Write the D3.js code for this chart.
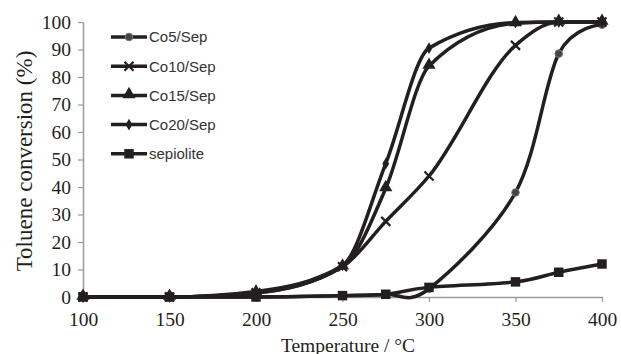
<!DOCTYPE html>
<html>
<head>
<meta charset="utf-8">
<script src="https://cdn.jsdelivr.net/npm/d3@7"></script>
<style>
  body { margin: 0; background: #fff; }
  svg { display: block; }
  .serif { font-family: "Liberation Serif", "DejaVu Serif", serif; font-size: 19.5px; }
</style>
</head>
<body>
<div id="chart"></div>
<script>
// Data
const temps = [100, 150, 200, 250, 275, 300, 350, 375, 400];
const co5 = [0, 0, 0, 0.5, 1, 3, 38, 88.5, 99];
const co10 = [0, 0, 1.5, 11, 27.5, 44, 91.5, 100, 100];
const co15 = [0, 0, 1.5, 11, 39.5, 84, 99.5, 100, 100];
const co20 = [0, 0, 2, 11.5, 48.5, 90.5, 99.8, 100, 100];
const sepiolite = [0, 0, 0, 0.5, 1, 3.5, 5.5, 9, 12];
const seriesNames = ["Co5/Sep", "Co10/Sep", "Co15/Sep", "Co20/Sep", "sepiolite"];
const markers = ["circle", "cross", "triangle", "diamond", "square"];
const xTicks = [100, 150, 200, 250, 300, 350, 400];
const yTicks = [0, 10, 20, 30, 40, 50, 60, 70, 80, 90, 100];

const svgWidth = 621, svgHeight = 354;
const ink = "#231f20";
const axisGray = "#9a9a9a";

const svg = d3.select("#chart").append("svg")
    .attr("width", svgWidth)
    .attr("height", svgHeight);

const x = d3.scaleLinear().domain([100, 400]).range([83, 602]);
const y = d3.scaleLinear().domain([0, 100]).range([297, 22]);

// Axes
const xAxis = svg.append("g")
    .attr("transform", `translate(0, ${y(0)})`)
    .call(d3.axisBottom(x).tickValues(xTicks).tickSize(5).tickSizeOuter(0).tickPadding(7));
const yAxis = svg.append("g")
    .attr("transform", `translate(${x(100)}, 0)`)
    .call(d3.axisLeft(y).tickValues(yTicks).tickSize(5).tickSizeOuter(0).tickPadding(7));

[xAxis, yAxis].forEach(a => {
    a.attr("font-family", null).attr("font-size", null).attr("class", "serif");
    a.select(".domain").attr("stroke", axisGray).attr("stroke-width", 1.5);
    a.selectAll(".tick line").attr("stroke", axisGray).attr("stroke-width", 1.2);
    a.selectAll(".tick text").attr("fill", ink);
});
xAxis.selectAll(".tick text").attr("dy", "0.85em");

// Axis titles
svg.append("text")
    .attr("class", "serif")
    .attr("x", 348)
    .attr("y", 352)
    .attr("text-anchor", "middle")
    .attr("fill", ink)
    .text("Temperature / °C");

svg.append("text")
    .attr("class", "serif")
    .attr("transform", "translate(32, 161) rotate(-90)")
    .attr("text-anchor", "middle")
    .attr("fill", ink)
    .style("font-size", "23px")
    .text("Toluene conversion (%)");

// Marker shapes
function drawMarker(g, type, cx, cy) {
    if (type === "circle") {
        g.append("circle").attr("cx", cx).attr("cy", cy).attr("r", 3.8)
            .attr("fill", "#444").attr("stroke", "#777").attr("stroke-width", 1);
    } else if (type === "cross") {
        g.append("path")
            .attr("d", d3.symbol().type(d3.symbolX).size(55)())
            .attr("transform", `translate(${cx},${cy})`)
            .attr("fill", "none").attr("stroke", ink).attr("stroke-width", 2.2);
    } else if (type === "triangle") {
        g.append("path")
            .attr("d", d3.symbol().type(d3.symbolTriangle).size(75)())
            .attr("transform", `translate(${cx},${cy - 1})`)
            .attr("fill", ink);
    } else if (type === "diamond") {
        g.append("path")
            .attr("d", d3.symbol().type(d3.symbolDiamond).size(40)())
            .attr("transform", `translate(${cx},${cy})`)
            .attr("fill", ink);
    } else if (type === "square") {
        g.append("path")
            .attr("d", d3.symbol().type(d3.symbolSquare).size(90)())
            .attr("transform", `translate(${cx},${cy})`)
            .attr("fill", ink);
    }
}

const allSeries = [co5, co10, co15, co20, sepiolite];

const smooth = d3.line()
    .x(d => x(d[0]))
    .y(d => y(d[1]))
    .curve(d3.curveCardinal.tension(0));
const smoothFlat = d3.line()
    .x(d => x(d[0]))
    .y(d => y(d[1]))
    .curve(d3.curveMonotoneX);

const plot = svg.append("g");
allSeries.forEach((vals, i) => {
    const pts = temps.map((t, j) => [t, vals[j]]);
    const gen = (i === 0 || i === 4) ? smooth : smoothFlat;
    plot.append("path")
        .datum(pts)
        .attr("d", gen)
        .attr("fill", "none")
        .attr("stroke", ink)
        .attr("stroke-width", 3.5);
});
allSeries.forEach((vals, i) => {
    const g = plot.append("g");
    temps.forEach((t, j) => drawMarker(g, markers[i], x(t), y(vals[j])));
});

// Legend
const legend = svg.append("g");
seriesNames.forEach((name, i) => {
    const ly = 37 + i * 29.2;
    legend.append("line")
        .attr("x1", 111).attr("x2", 147)
        .attr("y1", ly).attr("y2", ly)
        .attr("stroke", ink).attr("stroke-width", 3.5);
    drawMarker(legend, markers[i], 129, ly);
    legend.append("text")
        .attr("x", 149)
        .attr("y", ly)
        .attr("dy", "0.36em")
        .attr("fill", "#333")
        .style("font-family", "'Liberation Sans', Arial, sans-serif")
        .style("font-size", "15px")
        .text(name);
});
</script>
</body>
</html>
